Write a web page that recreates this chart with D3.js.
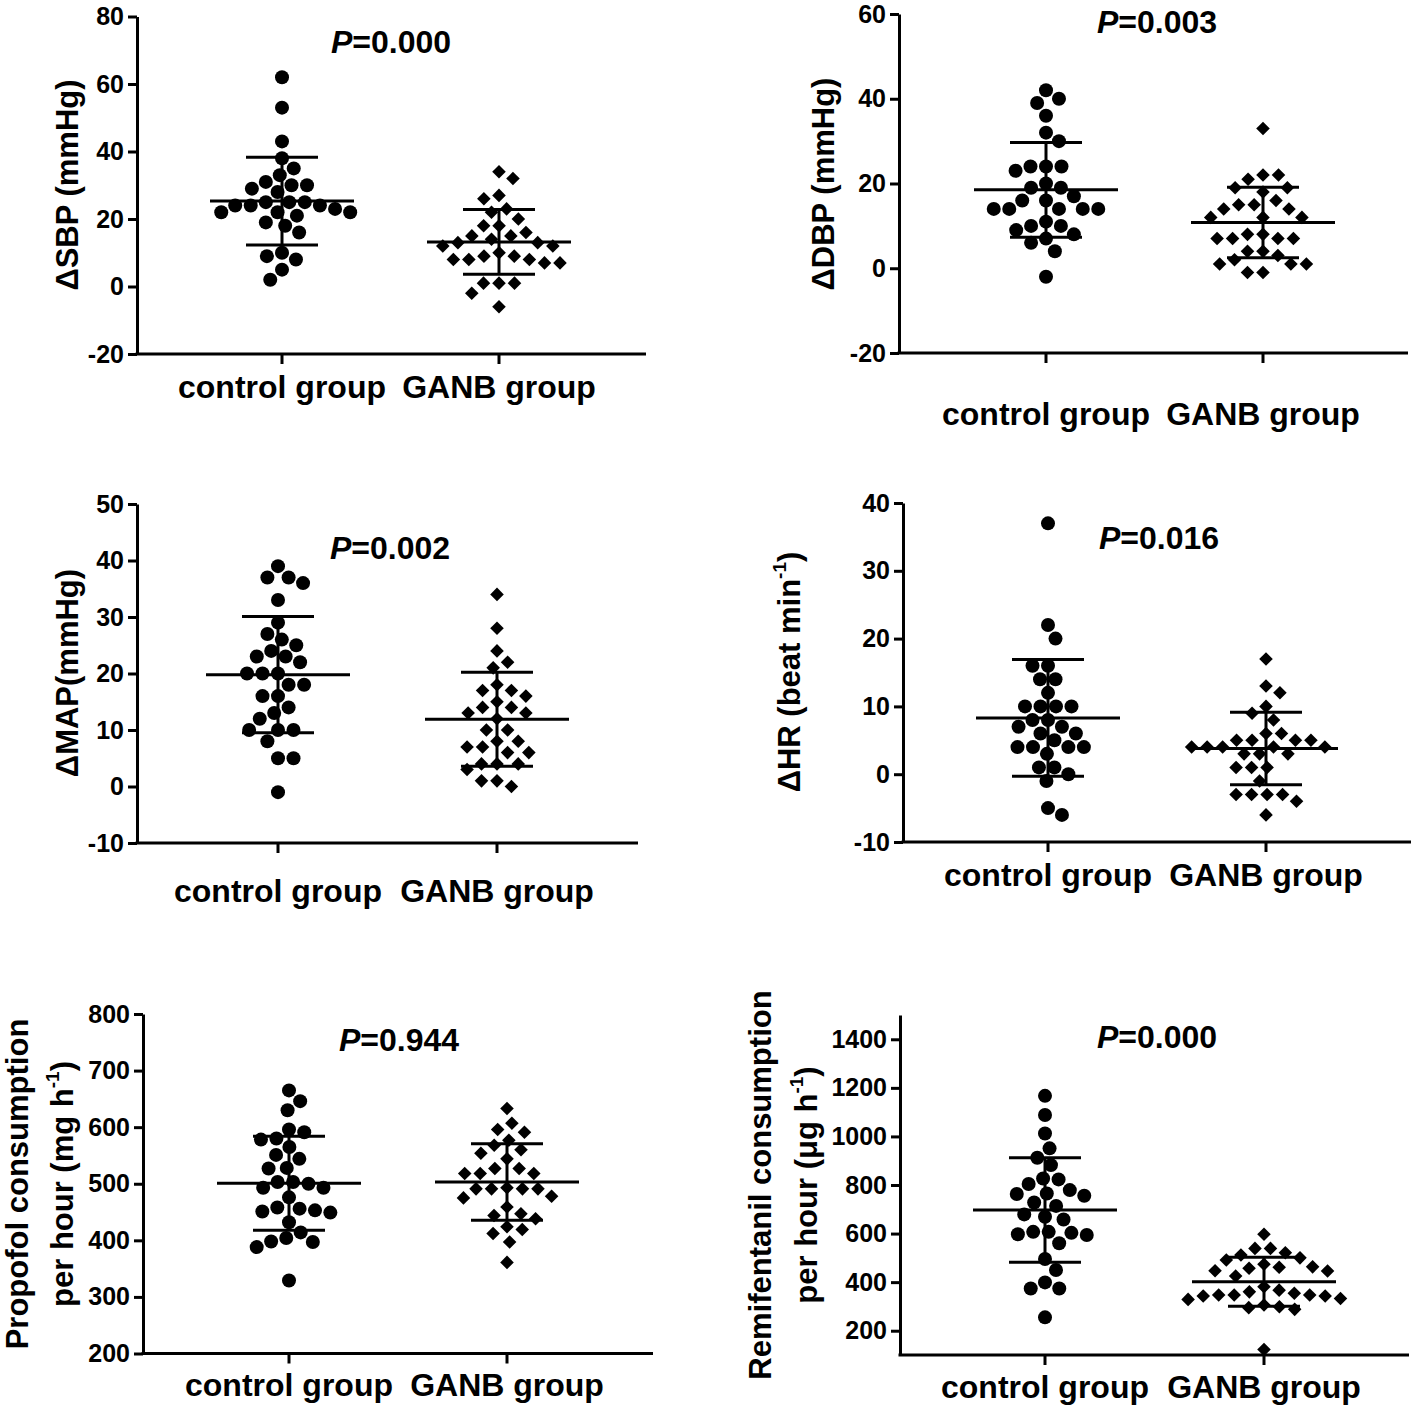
<!DOCTYPE html>
<html><head><meta charset="utf-8">
<script src="https://cdn.jsdelivr.net/npm/d3@7"></script>
<style>
body{margin:0;background:#fff}
svg{display:block}
text{font-family:"Liberation Sans",Arial,Helvetica,sans-serif;font-weight:bold;fill:#000}
</style>
</head><body>
<svg id="chart" width="1418" height="1409"></svg>
<script>
const groups = ["control group", "GANB group"];

const sbpControl = [62,53,43,38,35,33,31,30,30,29,28,25,24,24,24,25,25,23,22,22,22,21,19,18,16,10,9,8,5,2];
const sbpGanb    = [34,32,27,26,23,22,20,18,18,16,15,15,14,13,13,12,12,10,9,9,8,8,8,7,7,1,1,1,-2,-6];
const sbpMean = [25.3, 13.2];
const sbpSD   = [13.0, 9.6];
const sbpTicks = [-20,0,20,40,60,80];

const dbpControl = [42,39,40,36,32,30,24,24,24,23,20,19,19,17,16,16,14,14,14,14,14,11,10,10,9,8,7,6,4,-2];
const dbpGanb    = [33,22,21,22,19,18,19,15,14,14,15,16,12,12,12,8,7,7,7,7,8,4,4,3,1,1,1,2,-1,-1];
const dbpMean = [18.5, 10.8];
const dbpSD   = [11.2, 8.3];
const dbpTicks = [-20,0,20,40,60];

const mapControl = [39,37,37,36,33,29,27,26,25,24,23,23,22,20,20,20,18,18,16,16,14,13,12,10,10,10,8,5,5,-1];
const mapGanb    = [34,28,24,22,21,18,17,16,17,15,14,13,12,13,14,10,10,8,8,7,7,6,6,4,4,4,3,1,1,0];
const mapMean = [19.8, 11.9];
const mapSD   = [10.3, 8.3];
const mapTicks = [-10,0,10,20,30,40,50];

const hrControl = [37,22,20,16,16,14,14,12,10,10,10,10,8,8,7,7,6,6,5,4,4,4,4,3,1,1,0,-1,-5,-6];
const hrGanb    = [17,13,12,10,9,8,6,6,5,5,5,5,4,4,4,4,4,3,3,3,1,1,1,-1,-3,-3,-3,-3,-4,-6];
const hrMean = [8.3, 3.8];
const hrSD   = [8.6, 5.35];
const hrTicks = [-10,0,10,20,30,40];

const propofolControl = [665,646,630,591,596,578,580,565,544,551,527,528,503,500,493,493,503,476,456,451,449,453,458,432,414,404,397,388,398,329];
const propofolGanb    = [633,607,591,596,568,577,554,560,544,527,518,518,518,527,491,491,491,491,493,478,475,459,447,438,444,419,424,412,397,361];
const propofolMean = [501, 503];
const propofolSD   = [83, 67.5];
const propofolTicks = [200,300,400,500,600,700,800];

const remiControl = [1167,1088,1012,951,912,882,827,823,804,779,756,763,765,728,714,679,658,669,607,597,594,603,607,560,495,450,374,374,399,255];
const remiGanb    = [597,539,539,512,521,491,500,457,463,461,474,446,447,425,367,360,354,347,343,333,381,343,347,347,329,306,295,288,299,123];
const remiMean = [697, 402];
const remiSD   = [215, 101];
const remiTicks = [200,400,600,800,1000,1200,1400];

const pValues = ["0.000","0.003","0.002","0.016","0.944","0.000"];

const panels = [
  {ctl:sbpControl, gnb:sbpGanb, mean:sbpMean, sd:sbpSD, ticks:sbpTicks, dom:[-20,80], p:pValues[0],
   title:[["ΔSBP (mmHg)"]],
   L:{ax:137, xr:646, yTop:16.5, yBot:354, cats:[282,499], labY:398, pX:391, pY:53, tX:[67], tY:185}},
  {ctl:dbpControl, gnb:dbpGanb, mean:dbpMean, sd:dbpSD, ticks:dbpTicks, dom:[-20,60], p:pValues[1],
   title:[["ΔDBP (mmHg)"]],
   L:{ax:899, xr:1408, yTop:14, yBot:353, cats:[1046,1263], labY:425, pX:1157, pY:33, tX:[823], tY:184}},
  {ctl:mapControl, gnb:mapGanb, mean:mapMean, sd:mapSD, ticks:mapTicks, dom:[-10,50], p:pValues[2],
   title:[["ΔMAP(mmHg)"]],
   L:{ax:137, xr:638, yTop:504, yBot:843, cats:[278,497], labY:902, pX:390, pY:559, tX:[67], tY:673}},
  {ctl:hrControl, gnb:hrGanb, mean:hrMean, sd:hrSD, ticks:hrTicks, dom:[-10,40], p:pValues[3],
   title:[["ΔHR (beat min", "-1", ")"]],
   L:{ax:903, xr:1411, yTop:503, yBot:842, cats:[1048,1266], labY:886, pX:1159, pY:549, tX:[789], tY:672}},
  {ctl:propofolControl, gnb:propofolGanb, mean:propofolMean, sd:propofolSD, ticks:propofolTicks, dom:[200,800], p:pValues[4],
   title:[["Propofol consumption"],["per hour (mg h", "-1", ")"]],
   L:{ax:143, xr:653, yTop:1014, yBot:1353.5, cats:[289,507], labY:1396, pX:399, pY:1051, tX:[17,62], tY:1184}},
  {ctl:remiControl, gnb:remiGanb, mean:remiMean, sd:remiSD, ticks:remiTicks, dom:[100,1500], p:pValues[5],
   title:[["Remifentanil consumption"],["per hour (μg h", "-1", ")"]],
   L:{ax:900, xr:1409, yTop:1015, yBot:1355, cats:[1045,1264], labY:1398, pX:1157, pY:1048, tX:[760,806], tY:1185}}
];

const svg = d3.select("#chart");
const R = 7;         // dot radius
const D = 15.5;      // collision distance for swarm layout

function swarm(vals, y) {
  const pts = vals.map((v, i) => ({v, y: y(v), i})).sort((a, b) => a.y - b.y);
  const placed = [];
  let side = 1;
  for (const p of pts) {
    const cands = [0];
    for (const q of placed) {
      const dy = Math.abs(q.y - p.y);
      if (dy < D) {
        const dx = Math.sqrt(D * D - dy * dy);
        cands.push(q.x + dx, q.x - dx);
      }
    }
    cands.sort((a, b) => {
      const d = Math.abs(a) - Math.abs(b);
      if (Math.abs(d) > 0.5) return d;
      return side * (b - a);
    });
    for (const c of cands) {
      if (placed.every(q => (q.x - c) ** 2 + (q.y - p.y) ** 2 >= D * D - 0.01)) { p.x = c; break; }
    }
    if (p.x !== 0) side = -side;
    placed.push(p);
  }
  return pts;
}

panels.forEach(P => {
  const L = P.L;
  const y = d3.scaleLinear().domain(P.dom).range([L.yBot, L.yTop]);
  const x = d3.scalePoint().domain(groups).range(L.cats);
  const g = svg.append("g");

  // y axis
  const ya = g.append("g").attr("transform", `translate(${L.ax},0)`)
    .call(d3.axisLeft(y).tickValues(P.ticks).tickFormat(d => String(d))
      .tickSize(9).tickSizeOuter(0).tickPadding(4));
  ya.select(".domain").attr("stroke", "#000").attr("stroke-width", 3);
  ya.selectAll(".tick line").attr("stroke", "#000").attr("stroke-width", 3);
  ya.selectAll(".tick text").attr("font-size", 25)
    .attr("font-family", '"Liberation Sans",Arial,sans-serif').attr("font-weight", "bold").attr("fill", "#000");

  // x axis
  g.append("line").attr("x1", L.ax - 1.5).attr("x2", L.xr).attr("y1", y(P.dom[0])).attr("y2", y(P.dom[0]))
    .attr("stroke", "#000").attr("stroke-width", 3);
  g.selectAll(".xt").data(groups).join("line")
    .attr("x1", d => x(d)).attr("x2", d => x(d))
    .attr("y1", y(P.dom[0])).attr("y2", y(P.dom[0]) + 10)
    .attr("stroke", "#000").attr("stroke-width", 3);
  g.selectAll(".xl").data(groups).join("text")
    .attr("x", d => x(d)).attr("y", L.labY).attr("text-anchor", "middle")
    .attr("font-size", 32).text(d => d);

  // P value
  const pt = g.append("text").attr("x", L.pX).attr("y", L.pY).attr("text-anchor", "middle").attr("font-size", 32);
  pt.append("tspan").attr("font-style", "italic").text("P");
  pt.append("tspan").text("=" + P.p);

  // y title
  P.title.forEach((parts, k) => {
    const t = g.append("text")
      .attr("transform", `translate(${L.tX[k]},${L.tY}) rotate(-90)`)
      .attr("text-anchor", "middle").attr("dy", "0.36em").attr("font-size", 31);
    t.append("tspan").text(parts[0]);
    if (parts.length > 1) {
      t.append("tspan").attr("font-size", 19).attr("dy", "-0.75em").text(parts[1]);
      t.append("tspan").attr("dy", "0.45em").text(parts[2]);
    }
  });

  // points
  const series = [P.ctl, P.gnb];
  series.forEach((vals, gi) => {
    const cx = x(groups[gi]);
    const pts = swarm(vals, y);
    if (gi === 0) {
      g.selectAll(null).data(pts).join("circle")
        .attr("cx", d => cx + d.x).attr("cy", d => d.y).attr("r", R).attr("fill", "#000");
    } else {
      g.selectAll(null).data(pts).join("path")
        .attr("d", d3.symbol(d3.symbolSquare, 92))
        .attr("transform", d => `translate(${cx + d.x},${d.y}) rotate(45)`)
        .attr("fill", "#000");
    }
    // mean and SD
    const m = P.mean[gi], s = P.sd[gi];
    g.append("line").attr("x1", cx - 72).attr("x2", cx + 72).attr("y1", y(m)).attr("y2", y(m))
      .attr("stroke", "#000").attr("stroke-width", 3);
    g.append("line").attr("x1", cx).attr("x2", cx).attr("y1", y(m - s)).attr("y2", y(m + s))
      .attr("stroke", "#000").attr("stroke-width", 3);
    [m - s, m + s].forEach(v => {
      g.append("line").attr("x1", cx - 36).attr("x2", cx + 36).attr("y1", y(v)).attr("y2", y(v))
        .attr("stroke", "#000").attr("stroke-width", 3);
    });
  });
});
</script>
</body></html>
